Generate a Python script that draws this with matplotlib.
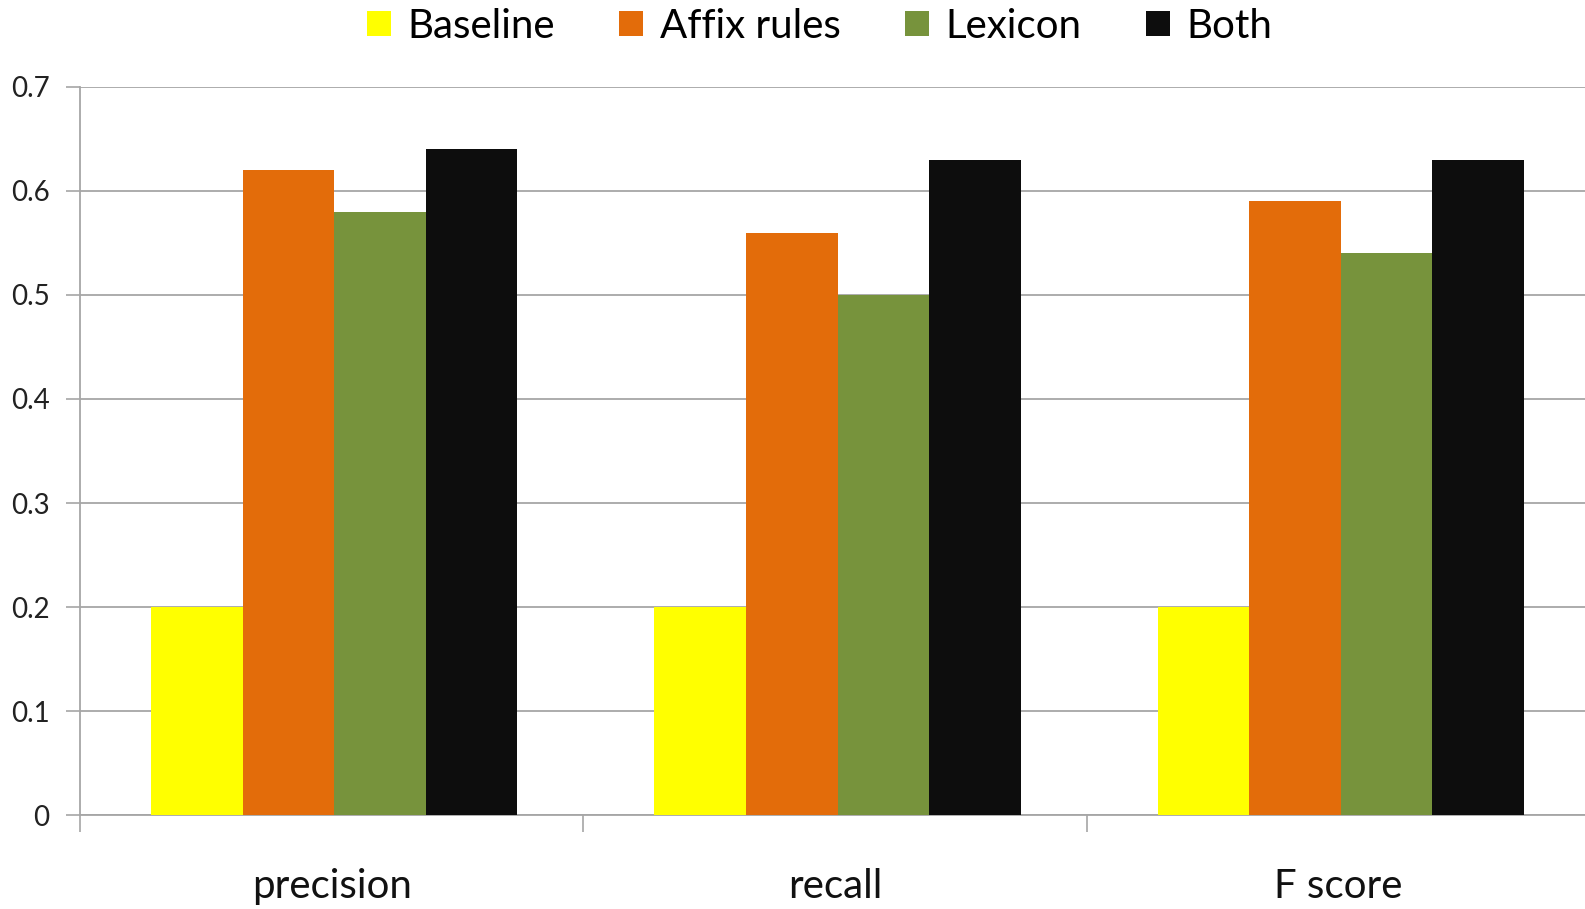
import numpy as np
import matplotlib
matplotlib.use("Agg")
import matplotlib.pyplot as plt

categories = ["precision", "recall", "F score"]
series = ["Baseline", "Affix rules", "Lexicon", "Both"]
baseline = [0.20, 0.20, 0.20]
affix = [0.62, 0.56, 0.59]
lexicon = [0.58, 0.50, 0.54]
both = [0.64, 0.63, 0.63]
colors = ["#FFFF00", "#E36C0A", "#77933C", "#0D0D0D"]
yticks = [0, 0.1, 0.2, 0.3, 0.4, 0.5, 0.6, 0.7]
ytick_labels = ["0", "0.1", "0.2", "0.3", "0.4", "0.5", "0.6", "0.7"]

plt.rcParams["font.family"] = ["Lato", "DejaVu Sans"]

fig = plt.figure(figsize=(15.85, 9.09), dpi=100)
ax = fig.add_axes([80 / 1585, 0.1034, 1510 / 1585, 0.8009])

x = np.arange(len(categories))
w = 0.182
for i, (name, vals) in enumerate(zip(series, [baseline, affix, lexicon, both])):
    ax.bar(x + (i - 1.5) * w + 0.005, vals, width=w, color=colors[i], label=name,
           zorder=3, linewidth=0)

ax.set_xlim(-0.5, len(categories) - 0.5)
ax.set_ylim(0, 0.7)
ax.set_yticks(yticks)
ax.set_yticklabels(ytick_labels, fontsize=20, color="#222222")
ax.yaxis.grid(True, color="#A6A6A6", linewidth=1.3, zorder=0)
ax.tick_params(axis="y", length=10, width=1.2, color="#A6A6A6", pad=12)

# category labels centred, tick marks on the boundaries
ax.set_xticks(x)
ax.set_xticklabels(categories, fontsize=29, color="#111111")
ax.set_xticks(np.arange(len(categories) + 1) - 0.5, minor=True)
ax.tick_params(axis="x", which="major", length=0, pad=38)
ax.tick_params(axis="x", which="minor", length=12, width=1.2, color="#A6A6A6")

for s in ["top", "right"]:
    ax.spines[s].set_visible(False)
for s in ["left", "bottom"]:
    ax.spines[s].set_color("#A6A6A6")
    ax.spines[s].set_linewidth(1.3)

fig.legend(loc="center", bbox_to_anchor=(0.517, 0.971), ncol=4,
           frameon=False, fontsize=29, handlelength=0.6, handleheight=0.6,
           handletextpad=0.4, columnspacing=1.6, borderpad=0)

fig.savefig("out.png", dpi=100)
